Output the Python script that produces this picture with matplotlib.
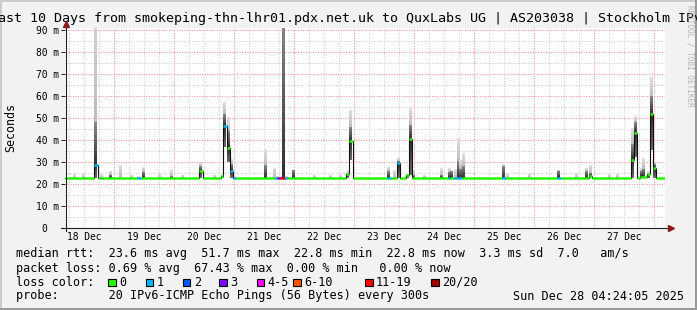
import matplotlib
matplotlib.use("Agg")
import matplotlib.pyplot as plt
import matplotlib.dates as mdates
import matplotlib.transforms as mtransforms
from matplotlib.patches import Rectangle
from matplotlib.ticker import MultipleLocator, FixedLocator, FixedFormatter, NullFormatter
import numpy as np
import pandas as pd

plt.rcParams['font.family'] = ['DejaVu Sans Mono', 'DejaVu Sans']

# ---- values ----
title = "Last 10 Days from smokeping-thn-lhr01.pdx.net.uk to QuxLabs UG | AS203038 | Stockholm IPv6"
t_start = "2025-12-18 04:24:05"
t_end = "2025-12-28 04:24:05"
base_rtt = 22.9          # ms, median outside the disturbed slots

# disturbed slots: time, median, lowest ping, upper quartile, highest ping (ms), lost pings of 20
ev_time = ["12-18 08:24", "12-18 12:00", "12-18 16:48", "12-18 19:00", "12-18 22:48",
           "12-19 02:48", "12-19 07:12", "12-19 10:00", "12-19 12:00", "12-19 18:24",
           "12-19 23:00", "12-20 03:36", "12-20 10:48", "12-20 16:24", "12-20 19:24",
           "12-20 20:24", "12-20 21:48", "12-20 23:12", "12-21 00:12", "12-21 12:48",
           "12-21 16:24", "12-21 17:12", "12-21 18:06", "12-21 19:00", "12-21 19:54",
           "12-21 21:00", "12-21 23:48", "12-22 08:24", "12-22 14:48", "12-22 18:48",
           "12-22 21:36", "12-22 22:48", "12-23 14:00", "12-23 16:24", "12-23 17:48",
           "12-23 21:30", "12-23 22:36", "12-23 23:48", "12-24 04:24", "12-24 11:05",
           "12-24 14:07", "12-24 15:05", "12-24 16:48", "12-24 17:53", "12-24 18:48",
           "12-24 19:43", "12-25 12:00", "12-25 13:36", "12-25 22:24", "12-26 10:00",
           "12-26 17:05", "12-26 21:05", "12-26 22:48", "12-26 23:48", "12-27 06:24",
           "12-27 09:36", "12-27 15:24", "12-27 16:48", "12-27 18:00", "12-27 18:55",
           "12-27 19:48", "12-27 20:48", "12-27 21:43", "12-27 23:00", "12-28 00:12"]
ev_med = [22.9, 22.9, 28.6, 22.9, 22.9, 22.9, 22.9, 22.9, 22.9, 22.9,
          22.9, 22.9, 26.0, 22.9, 23.6, 46.5, 36.5, 26.0, 22.9, 22.9,
          22.9, 22.9, 22.9, 22.9, 22.9, 22.9, 22.9, 22.9, 22.9, 22.9,
          24.4, 39.7, 22.9, 22.9, 29.4, 24.0, 40.5, 22.9, 22.9, 22.9,
          22.9, 22.9, 22.9, 22.9, 22.9, 22.9, 22.9, 22.9, 22.9, 22.9,
          22.9, 22.9, 23.8, 22.6, 22.9, 22.9, 30.9, 43.3, 22.6, 23.3,
          23.3, 23.0, 24.4, 51.7, 27.1]
ev_lo = [22.9, 22.9, 22.9, 22.9, 22.9, 22.9, 22.9, 22.9, 22.9, 22.9,
         22.9, 22.9, 22.9, 22.9, 22.9, 37.0, 30.0, 22.9, 22.9, 22.9,
         22.9, 22.9, 22.9, 22.9, 22.9, 22.9, 22.9, 22.9, 22.9, 22.9,
         22.9, 31.0, 22.9, 22.9, 22.9, 22.9, 24.0, 22.9, 22.9, 22.9,
         22.9, 22.9, 22.9, 22.9, 22.9, 22.9, 22.9, 22.9, 22.9, 22.9,
         22.9, 22.9, 22.9, 22.6, 22.9, 22.9, 22.9, 32.4, 22.6, 22.9,
         22.9, 22.9, 22.9, 35.5, 22.9]
ev_q75 = [22.9, 22.9, 48.0, 22.9, 24.2, 22.9, 22.9, 22.9, 25.5, 22.9,
          23.5, 22.9, 28.0, 22.9, 23.6, 52.0, 44.0, 29.0, 22.9, 28.6,
          22.9, 22.9, 22.9, 22.9, 95.0, 22.9, 26.4, 22.9, 22.9, 22.9,
          24.4, 46.0, 26.0, 22.9, 30.5, 24.0, 47.0, 24.0, 22.9, 24.0,
          25.5, 26.0, 22.9, 30.5, 27.0, 28.0, 28.0, 22.9, 22.9, 26.0,
          22.9, 25.9, 25.0, 22.6, 22.9, 22.9, 38.0, 48.0, 22.6, 26.0,
          27.0, 23.0, 24.4, 60.0, 29.0]
ev_hi = [24.4, 24.6, 120.0, 24.5, 26.0, 28.6, 24.3, 23.5, 27.9, 24.5,
         26.5, 24.3, 30.1, 24.3, 24.0, 57.4, 50.6, 31.4, 23.5, 35.8,
         27.3, 23.5, 23.5, 23.5, 95.0, 23.5, 26.4, 24.3, 24.3, 24.3,
         26.0, 53.6, 27.9, 26.4, 31.7, 24.5, 54.4, 26.4, 24.3, 27.1,
         27.1, 26.0, 26.8, 40.8, 30.9, 34.0, 29.0, 24.8, 24.8, 26.4,
         24.8, 27.1, 28.6, 22.9, 24.5, 24.5, 45.3, 50.9, 23.5, 27.1,
         31.7, 23.5, 26.0, 68.8, 30.1]
ev_loss = [0, 0, 1, 0, 0, 0, 0, 1, 0, 0,
           0, 0, 0, 0, 0, 1, 0, 1, 1, 0,
           0, 1, 3, 14, 14, 1, 0, 0, 0, 0,
           0, 0, 1, 0, 1, 0, 0, 0, 0, 0,
           1, 0, 1, 1, 1, 0, 1, 0, 0, 1,
           0, 0, 0, 0, 0, 0, 0, 0, 0, 0,
           0, 0, 0, 0, 0]

loss_labels = ["0", "1", "2", "3", "4-5", "6-10", "11-19", "20/20"]
loss_upper = [0, 1, 2, 3, 5, 10, 19, 20]
loss_colors = ["#26ff00", "#00b8ff", "#0059ff", "#7e00ff", "#ff00ff", "#ff5500", "#ff0000", "#a10000"]

day_labels = ["18 Dec", "19 Dec", "20 Dec", "21 Dec", "22 Dec",
              "23 Dec", "24 Dec", "25 Dec", "26 Dec", "27 Dec"]
ytick_vals = [0, 10, 20, 30, 40, 50, 60, 70, 80, 90]
ytick_labels = ["0  ", "10 m", "20 m", "30 m", "40 m", "50 m", "60 m", "70 m", "80 m", "90 m"]

rtt_line = "median rtt:  23.6 ms avg  51.7 ms max  22.8 ms min  22.8 ms now  3.3 ms sd  7.0   am/s"
loss_line = "packet loss: 0.69 % avg  67.43 % max  0.00 % min   0.00 % now"
color_head = "loss color:"
probe_line = "probe:       20 IPv6-ICMP Echo Pings (56 Bytes) every 300s"
stamp = "Sun Dec 28 04:24:05 2025"


W, H = 697, 310
def fx(px):
    return px / W
def fy(py):
    return 1 - py / H

fig = plt.figure(figsize=(W / 100, H / 100), dpi=100, facecolor="#f2f2f2")
ax = fig.add_axes([fx(65), fy(228), 600 / W, (228 - 27.8) / H])
ax.set_facecolor("white")
for s in ax.spines.values():
    s.set_visible(False)

t0 = mdates.date2num(pd.Timestamp(t_start))
t1 = mdates.date2num(pd.Timestamp(t_end))
tt = mdates.date2num(pd.to_datetime(["2025-" + s for s in ev_time]))

def loss_class(n):
    for i, u in enumerate(loss_upper):
        if n <= u:
            return i
    return len(loss_upper) - 1

# smoke: gray gradient bands around the median
w = 1.2 / 24
N = 12
bx, bh, bb, bc = [], [], [], []
for ti, m, lo, q, hi in zip(tt, ev_med, ev_lo, ev_q75, ev_hi):
    for a, b, g0, g1 in [(m, q, 0.19, 0.52), (q, hi, 0.74, 0.87), (m, lo, 0.19, 0.42)]:
        if abs(b - a) < 1e-6:
            continue
        edges = np.linspace(a, b, N + 1)
        for k in range(N):
            g = g0 + (g1 - g0) * k / (N - 1)
            bx.append(ti)
            bb.append(edges[k])
            bh.append(edges[k + 1] - edges[k])
            bc.append((g, g, g))
ax.bar(bx, bh, bottom=bb, width=w, color=bc, linewidth=0, zorder=2)

# median: step line, coloured by packet loss
half = 0.7 / 24
st, sv, sc = [t0], [base_rtt], [0]
for ti, m, ls in zip(tt, ev_med, ev_loss):
    if len(st) > 1 and st[-1] >= ti - half:
        st.pop(); sv.pop(); sc.pop()
    st.append(ti - half); sv.append(m); sc.append(loss_class(ls))
    st.append(ti + half); sv.append(base_rtt); sc.append(0)
st.append(t1); sv.append(base_rtt); sc.append(0)

ax.step(st, sv, where="post", color="#101010", lw=0.8, zorder=3)
ax.hlines(sv[:-1], st[:-1], st[1:], colors=[loss_colors[c] for c in sc[:-1]], lw=1.8, zorder=4)

ax.set_xlim(t0, t1)
ax.set_ylim(0, 91)

# grid
ax.yaxis.set_major_locator(FixedLocator(ytick_vals))
ax.yaxis.set_major_formatter(FixedFormatter(ytick_labels))
ax.yaxis.set_minor_locator(MultipleLocator(5))
ax.xaxis.set_major_locator(mdates.DayLocator())
ax.xaxis.set_minor_locator(mdates.HourLocator(byhour=[6, 12, 18]))
ax.xaxis.set_major_formatter(NullFormatter())
ax.set_axisbelow(True)
ax.grid(which="major", color="#ff8c8c", lw=0.7, linestyle=(0, (1, 1.6)))
ax.grid(which="minor", color="#c8c8c8", lw=0.7, linestyle=(0, (1, 1.6)))
ax.tick_params(axis="y", which="major", length=3, width=0.7, color="#202020", pad=1.5, labelsize=6.9)
ax.tick_params(axis="y", which="minor", length=0)
ax.tick_params(axis="x", which="both", length=0)

# axes with arrows
ax.plot([-0.006, 1.006], [0, 0], transform=ax.transAxes, color="#202020", lw=0.8, clip_on=False, zorder=6)
ax.plot([0.002, 0.002], [-0.017, 1.01], transform=ax.transAxes, color="#202020", lw=0.8, clip_on=False, zorder=6)
ax.plot([1.01], [0], marker=">", ms=4, color="#8b1a1a", transform=ax.transAxes, clip_on=False, zorder=7)
ax.plot([0.002], [1.019], marker="^", ms=4, color="#8b1a1a", transform=ax.transAxes, clip_on=False, zorder=7)

# day labels at noon
trans = mtransforms.blended_transform_factory(ax.transData, fig.transFigure)
for i, lab in enumerate(day_labels):
    day = mdates.date2num(pd.Timestamp("2025-12-18 12:00") + pd.Timedelta(days=i))
    ax.text(day, fy(237.5), lab, transform=trans, ha="center", va="center", fontsize=6.9, color="#000000")

# title, unit label, watermark
fig.text(fx(350), fy(18.5), title, ha="center", va="center", fontsize=9.6, color="#000000")
fig.text(fx(11), fy(128), "Seconds", rotation=90, ha="center", va="center", fontsize=8.4, color="#000000")
fig.text(fx(690), fy(5), "RRDTOOL / TOBI OETIKER", rotation=270, ha="center", va="top",
         fontsize=5.5, color="#b4b4b4")

# legend rows
fs = 8.5
fig.text(fx(16), fy(254), rtt_line, ha="left", va="center", fontsize=fs)
fig.text(fx(16), fy(268.3), loss_line, ha="left", va="center", fontsize=fs)
fig.text(fx(16), fy(282.3), color_head, ha="left", va="center", fontsize=fs)
box_x = [108.3, 145.7, 182.7, 219.3, 256.7, 293.3, 365, 431]
for lab, col, x in zip(loss_labels, loss_colors, box_x):
    fig.patches.append(Rectangle((fx(x), fy(286.2)), 7.6 / W, 7.6 / H, transform=fig.transFigure,
                                 facecolor=col, edgecolor="black", lw=0.8))
    fig.text(fx(x + 11), fy(282.3), lab, ha="left", va="center", fontsize=fs)
fig.text(fx(16), fy(296), probe_line, ha="left", va="center", fontsize=fs)
fig.text(fx(513.3), fy(296), stamp, ha="left", va="center", fontsize=fs)

# 3d border of the rrdtool canvas
fig.patches.append(Rectangle((0, fy(2)), 1, 2 / H, transform=fig.transFigure, color="#cbcbcb", lw=0))
fig.patches.append(Rectangle((0, 0), 2 / W, 1, transform=fig.transFigure, color="#cbcbcb", lw=0))
fig.patches.append(Rectangle((0, 0), 1, 2 / H, transform=fig.transFigure, color="#999999", lw=0))
fig.patches.append(Rectangle((fx(695), 0), 2 / W, 1, transform=fig.transFigure, color="#999999", lw=0))

fig.savefig("out.png", dpi=100, facecolor=fig.get_facecolor())
